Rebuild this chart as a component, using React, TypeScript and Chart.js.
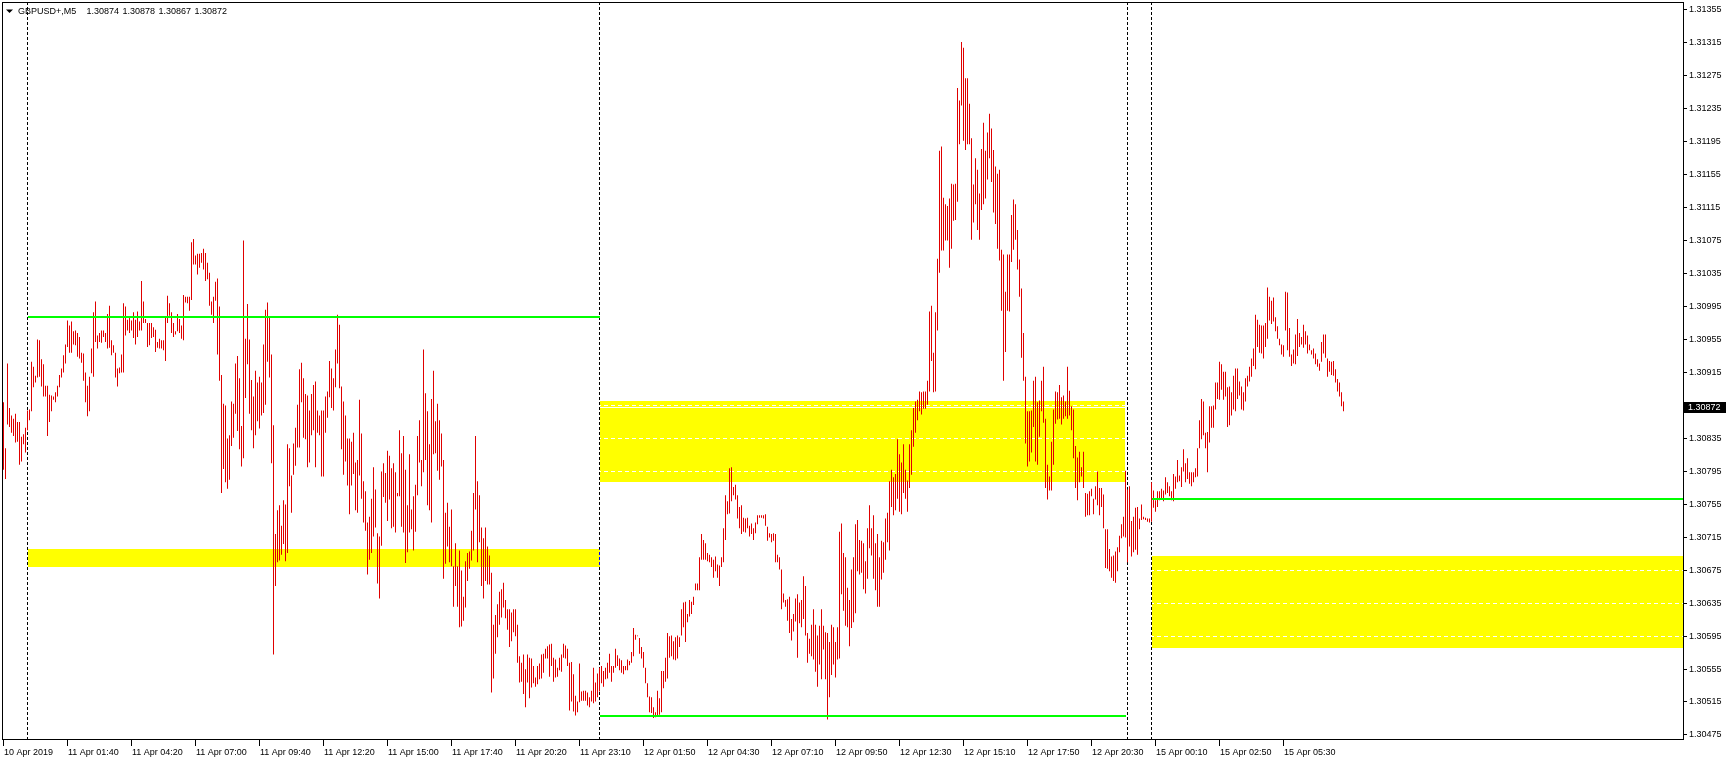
import { useEffect, useRef } from 'react';
import { Chart, registerables } from 'chart.js';

Chart.register(...registerables);

// Prices are stored in points: a value v stands for the price 1 + v / 100000 (30878 -> 1.30878).
// One M5 bar per entry, oldest first.
const HIGH_10APR = [30878, 30822, 30925, 30871, 30862, 30858, 30864, 30854, 30854, 30836, 30839, 30847];
const LOW_10APR = [30796, 30785, 30851, 30848, 30841, 30837, 30829, 30830, 30802, 30806, 30827, 30817];

const HIGH_11APR = [
  30868, 30869, 30927, 30921, 30910, 30954, 30953, 30930, 30924, 30898,
  30898, 30887, 30886, 30885, 30890, 30898, 30911, 30919, 30935, 30948,
  30977, 30971, 30976, 30964, 30965, 30962, 30957, 30938, 30937, 30914,
  30898, 30909, 30943, 30987, 31000, 30959, 30962, 30965, 30965, 30962,
  30985, 30995, 30953, 30947, 30938, 30919, 30920, 30936, 30998, 30994,
  30978, 30982, 30977, 30987, 30978, 30988, 30976, 31025, 31000, 30979,
  30974, 30974, 30974, 30969, 30966, 30951, 30955, 30953, 30953, 30982,
  31007, 30998, 30987, 30974, 30964, 30985, 30979, 30971, 31008, 31006,
  31006, 31006, 31072, 31076, 31056, 31058, 31058, 31059, 31064, 31059,
  31047, 31035, 31000, 31006, 31024, 31028, 30994, 30911, 30876, 30874,
  30834, 30838, 30879, 30876, 30925, 30934, 30907, 30849, 31074, 30955,
  30997, 30954, 30905, 30885, 30916, 30902, 30909, 30902, 30948, 30990,
  30999, 30982, 30936, 30850, 30718, 30747, 30753, 30728, 30759, 30754,
  30827, 30822, 30789, 30828, 30847, 30875, 30918, 30926, 30907, 30888,
  30886, 30868, 30888, 30899, 30903, 30868, 30862, 30868, 30868, 30885,
  30891, 30928, 30919, 30907, 30942, 30984, 30972, 30897, 30879, 30862,
  30834, 30834, 30830, 30841, 30805, 30808, 30881, 30840, 30782, 30770,
  30732, 30739, 30761, 30799, 30772, 30719, 30715, 30794, 30804, 30792,
  30819, 30813, 30798, 30804, 30793, 30768, 30844, 30816, 30837, 30796,
  30753, 30815, 30748, 30764, 30778, 30837, 30856, 30808, 30942, 30889,
  30867, 30827, 30882, 30916, 30855, 30876, 30856, 30840, 30808, 30744,
  30756, 30727, 30748, 30679, 30707, 30679, 30698, 30674, 30642, 30685,
  30695, 30697, 30722, 30768, 30837, 30782, 30765, 30726, 30713, 30726,
  30703, 30692, 30671, 30608, 30620, 30633, 30648, 30651, 30659, 30638,
  30627, 30627, 30623, 30627, 30627, 30608, 30570, 30562, 30572, 30554,
  30572, 30568, 30567, 30558, 30544, 30558, 30561, 30572, 30573, 30579,
  30582, 30584, 30585, 30568, 30566, 30556, 30568, 30572, 30585, 30583,
  30579, 30562, 30563, 30548, 30522, 30515, 30561, 30527, 30528, 30528,
  30526, 30520, 30528, 30556, 30538, 30549,
];
const LOW_11APR = [
  30844, 30856, 30867, 30896, 30902, 30908, 30909, 30897, 30885, 30885,
  30837, 30854, 30867, 30881, 30878, 30885, 30896, 30908, 30914, 30925,
  30945, 30938, 30938, 30948, 30947, 30933, 30931, 30926, 30904, 30878,
  30861, 30867, 30913, 30909, 30951, 30943, 30951, 30950, 30957, 30951,
  30943, 30944, 30935, 30938, 30908, 30897, 30913, 30914, 30914, 30959,
  30965, 30962, 30965, 30956, 30948, 30957, 30965, 30965, 30974, 30974,
  30945, 30947, 30956, 30957, 30939, 30944, 30943, 30943, 30941, 30928,
  30974, 30983, 30962, 30957, 30960, 30964, 30962, 30955, 30953, 30999,
  30998, 30989, 31002, 31045, 31045, 31033, 31041, 31047, 31039, 31025,
  31027, 30995, 30984, 30974, 31001, 30936, 30904, 30768, 30797, 30781,
  30773, 30784, 30825, 30835, 30864, 30843, 30821, 30800, 30810, 30883,
  30924, 30864, 30844, 30822, 30838, 30855, 30846, 30862, 30865, 30875,
  30927, 30908, 30804, 30572, 30655, 30684, 30686, 30693, 30706, 30685,
  30695, 30776, 30744, 30790, 30801, 30823, 30823, 30878, 30835, 30833,
  30799, 30805, 30838, 30844, 30799, 30841, 30838, 30788, 30788, 30841,
  30859, 30884, 30871, 30868, 30896, 30925, 30895, 30821, 30790, 30806,
  30777, 30742, 30777, 30791, 30747, 30744, 30789, 30761, 30732, 30722,
  30669, 30687, 30695, 30715, 30726, 30658, 30640, 30704, 30763, 30756,
  30734, 30760, 30725, 30727, 30720, 30764, 30764, 30727, 30720, 30683,
  30696, 30720, 30724, 30698, 30721, 30765, 30805, 30776, 30793, 30808,
  30753, 30747, 30732, 30815, 30816, 30795, 30784, 30800, 30664, 30682,
  30703, 30684, 30679, 30630, 30655, 30630, 30605, 30606, 30613, 30629,
  30661, 30676, 30686, 30698, 30748, 30684, 30708, 30655, 30640, 30661,
  30657, 30657, 30526, 30543, 30573, 30593, 30608, 30617, 30629, 30616,
  30602, 30581, 30588, 30599, 30594, 30562, 30538, 30539, 30524, 30508,
  30538, 30519, 30532, 30537, 30533, 30536, 30542, 30543, 30550, 30567,
  30567, 30545, 30558, 30539, 30544, 30545, 30553, 30551, 30568, 30567,
  30558, 30504, 30515, 30503, 30498, 30502, 30514, 30516, 30516, 30516,
  30510, 30508, 30515, 30513, 30515, 30520,
];

const HIGH_12APR = [
  30556, 30558, 30552, 30556, 30562, 30573, 30558, 30558, 30579, 30571,
  30567, 30565, 30558, 30558, 30566, 30564, 30575, 30604, 30596, 30595,
  30592, 30581, 30575, 30556, 30537, 30521, 30520, 30508, 30502, 30528,
  30519, 30552, 30552, 30568, 30598, 30594, 30595, 30588, 30593, 30595,
  30593, 30627, 30635, 30636, 30621, 30638, 30636, 30642, 30658, 30658,
  30690, 30718, 30711, 30707, 30695, 30693, 30690, 30687, 30691, 30681,
  30680, 30690, 30725, 30765, 30758, 30798, 30799, 30775, 30778, 30765,
  30751, 30753, 30738, 30737, 30738, 30728, 30731, 30725, 30732, 30741,
  30741, 30741, 30741, 30742, 30727, 30719, 30718, 30719, 30718, 30693,
  30690, 30675, 30646, 30638, 30639, 30642, 30615, 30621, 30640, 30645,
  30635, 30638, 30667, 30655, 30598, 30591, 30608, 30627, 30608, 30595,
  30607, 30627, 30607, 30599, 30598, 30587, 30608, 30605, 30587, 30605,
  30721, 30731, 30695, 30690, 30653, 30638, 30675, 30690, 30730, 30735,
  30711, 30710, 30707, 30685, 30725, 30753, 30725, 30741, 30707, 30718,
  30690, 30710, 30708, 30737, 30744, 30782, 30796, 30787, 30791, 30833,
  30815, 30805, 30827, 30796, 30783, 30827, 30844, 30871, 30879, 30881,
  30891, 30890, 30891, 30891, 30904, 30988, 30995, 30938, 30987, 31052,
  31183, 31188, 31126, 31118, 31116, 31125, 31143, 31142, 31143, 31259,
  31244, 31315, 31308, 31271, 31271, 31240, 31198, 31142, 31174, 31160,
  31131, 31185, 31217, 31183, 31205, 31228, 31210, 31184, 31164, 31155,
  31160, 31063, 31057, 31012, 31057, 31057, 31105, 31124, 31118, 31087,
  31051, 31016, 30962, 30909, 30867, 30867, 30868, 30904, 30909, 30878,
  30880, 30904, 30921, 30858, 30802, 30788, 30830, 30869, 30891, 30890,
  30899, 30884, 30886, 30879, 30921, 30892, 30873, 30869, 30825, 30811,
  30818, 30799, 30818, 30768, 30767, 30770, 30773, 30761, 30776, 30794,
  30774, 30774, 30766, 30724, 30724, 30700, 30691, 30692, 30697, 30702,
  30716, 30730, 30739, 30795, 30772, 30776, 30734, 30739, 30750, 30751,
  30737, 30754, 30739, 30738, 30737, 30737,
];
const LOW_12APR = [
  30527, 30537, 30533, 30542, 30543, 30550, 30539, 30550, 30556, 30558,
  30553, 30550, 30548, 30553, 30553, 30559, 30562, 30570, 30590, 30594,
  30573, 30567, 30556, 30537, 30520, 30502, 30501, 30495, 30496, 30497,
  30499, 30502, 30531, 30539, 30543, 30568, 30570, 30566, 30565, 30567,
  30581, 30595, 30605, 30587, 30611, 30618, 30621, 30632, 30650, 30650,
  30650, 30687, 30687, 30687, 30685, 30684, 30678, 30665, 30673, 30665,
  30655, 30678, 30684, 30711, 30742, 30743, 30758, 30765, 30760, 30737,
  30725, 30718, 30721, 30720, 30725, 30715, 30718, 30711, 30719, 30730,
  30738, 30738, 30737, 30728, 30710, 30714, 30708, 30710, 30684, 30684,
  30675, 30627, 30635, 30630, 30613, 30598, 30589, 30600, 30612, 30568,
  30610, 30605, 30615, 30595, 30562, 30573, 30570, 30566, 30551, 30533,
  30560, 30542, 30578, 30542, 30493, 30520, 30547, 30560, 30544, 30566,
  30567, 30645, 30625, 30607, 30605, 30582, 30604, 30611, 30622, 30673,
  30669, 30671, 30651, 30646, 30664, 30701, 30692, 30664, 30650, 30630,
  30630, 30663, 30671, 30687, 30708, 30698, 30751, 30741, 30747, 30761,
  30745, 30742, 30768, 30761, 30745, 30774, 30790, 30824, 30841, 30856,
  30867, 30863, 30870, 30870, 30875, 30891, 30928, 30890, 30891, 30965,
  31035, 31062, 31062, 31074, 31074, 31041, 31064, 31098, 31099, 31121,
  31191, 31238, 31195, 31184, 31191, 31191, 31075, 31096, 31118, 31087,
  31075, 31111, 31118, 31125, 31148, 31174, 31145, 31108, 31094, 31064,
  31050, 30989, 30904, 30939, 30989, 30988, 31048, 31063, 31075, 31039,
  31006, 30932, 30904, 30828, 30800, 30806, 30817, 30848, 30806, 30802,
  30836, 30867, 30853, 30774, 30760, 30771, 30771, 30802, 30852, 30857,
  30858, 30851, 30858, 30861, 30858, 30862, 30844, 30810, 30774, 30759,
  30781, 30788, 30774, 30739, 30741, 30741, 30764, 30742, 30760, 30753,
  30741, 30751, 30725, 30677, 30676, 30673, 30665, 30661, 30659, 30673,
  30696, 30713, 30715, 30714, 30684, 30703, 30691, 30696, 30699, 30693,
  30724, 30735, 30736, 30735, 30733, 30732,
];

const HIGH_15APR = [
  30781, 30771, 30759, 30770, 30770, 30773, 30771, 30787, 30781, 30776,
  30770, 30791, 30788, 30808, 30789, 30799, 30821, 30804, 30810, 30793,
  30793, 30793, 30798, 30822, 30856, 30882, 30879, 30841, 30842, 30873,
  30873, 30874, 30902, 30902, 30927, 30924, 30915, 30915, 30896, 30897,
  30890, 30910, 30919, 30919, 30903, 30897, 30890, 30907, 30910, 30921,
  30931, 30943, 30984, 30978, 30972, 30971, 30971, 30974, 31017, 31006,
  31001, 31005, 30981, 30970, 30955, 30948, 30947, 31012, 31011, 30968,
  30936, 30942, 30960, 30979, 30962, 30957, 30972, 30964, 30959, 30948,
  30941, 30943, 30937, 30930, 30925, 30951, 30960, 30960, 30931, 30928,
  30927, 30928, 30918, 30906, 30902, 30890, 30879,
];
const LOW_15APR = [
  30733, 30750, 30745, 30751, 30759, 30761, 30758, 30766, 30768, 30764,
  30759, 30758, 30773, 30781, 30782, 30775, 30794, 30781, 30785, 30779,
  30776, 30781, 30787, 30788, 30822, 30833, 30838, 30822, 30793, 30829,
  30847, 30847, 30869, 30882, 30881, 30893, 30881, 30885, 30848, 30850,
  30862, 30869, 30867, 30882, 30886, 30869, 30868, 30879, 30897, 30903,
  30909, 30922, 30918, 30945, 30938, 30937, 30931, 30945, 30955, 30977,
  30973, 30976, 30964, 30955, 30947, 30936, 30933, 30965, 30941, 30933,
  30922, 30925, 30924, 30934, 30945, 30948, 30944, 30948, 30937, 30941,
  30936, 30931, 30924, 30921, 30916, 30927, 30937, 30932, 30909, 30915,
  30911, 30910, 30902, 30891, 30885, 30873, 30867,
];

// Time-axis labels, one every 32 bars
const TIME_LABELS = [
  '10 Apr 2019', '11 Apr 01:40', '11 Apr 04:20', '11 Apr 07:00', '11 Apr 09:40', '11 Apr 12:20',
  '11 Apr 15:00', '11 Apr 17:40', '11 Apr 20:20', '11 Apr 23:10', '12 Apr 01:50', '12 Apr 04:30',
  '12 Apr 07:10', '12 Apr 09:50', '12 Apr 12:30', '12 Apr 15:10', '12 Apr 17:50', '12 Apr 20:30',
  '15 Apr 00:10', '15 Apr 02:50', '15 Apr 05:30',
];
const BARS_PER_TIME_LABEL = 32;

const PRICE_TICKS = [
  1.30475, 1.30515, 1.30555, 1.30595, 1.30635, 1.30675, 1.30715, 1.30755, 1.30795, 1.30835,
  1.30875, 1.30915, 1.30955, 1.30995, 1.31035, 1.31075, 1.31115, 1.31155, 1.31195, 1.31235,
  1.31275, 1.31315, 1.31355,
];

const SYMBOL = 'GBPUSD+,M5';
const LAST_OHLC = ['1.30874', '1.30878', '1.30867', '1.30872'];
const BID = 1.30872;

// Drawn objects (bar index ranges, prices)
const ZONE_FROM = [12, 298, 574];
const ZONE_TO = [298, 560.85, null];
const ZONE_TOP = [1.307, 1.3088, 1.30691];
const ZONE_BOTTOM = [1.30678, 1.30781, 1.3058];

const LEVEL_FROM = [12, 298, 574];
const LEVEL_TO = [298, 561, null];
const LEVEL_PRICE = [1.30981, 1.30497, 1.30761];

const SEPARATOR_BARS = [12, 298, 562, 574];

// Visible range
const X_MIN = -0.75;
const X_MAX = 839.75;
const Y_MIN = 1.304695;
const Y_MAX = 1.313634;

const W = 1729;
const H = 760;
const FONT = '9px "Liberation Sans", Arial, sans-serif';
const BAR_COLOR = '#e00000';

const toPrice = (v: number) => 1 + v / 100000;

export default function App() {
  const ref = useRef<HTMLCanvasElement>(null);

  useEffect(() => {
    const canvas = ref.current;
    if (!canvas) return;

    const highs = [...HIGH_10APR, ...HIGH_11APR, ...HIGH_12APR, ...HIGH_15APR];
    const lows = [...LOW_10APR, ...LOW_11APR, ...LOW_12APR, ...LOW_15APR];
    const bars = highs.map((h, i) => ({ x: i, y: [toPrice(lows[i]), toPrice(h)] }));

    const overlay = {
      id: 'mt4Overlay',
      beforeDraw(chart: any) {
        const { ctx } = chart;
        ctx.save();
        ctx.fillStyle = '#ffffff';
        ctx.fillRect(0, 0, chart.width, chart.height);
        ctx.restore();
      },
      beforeDatasetsDraw(chart: any) {
        const { ctx, chartArea: ca, scales } = chart;
        const xs = scales.x;
        const ys = scales.y;
        ctx.save();
        // yellow zones
        ctx.fillStyle = '#ffff00';
        for (let k = 0; k < ZONE_FROM.length; k++) {
          const x0 = Math.round(xs.getPixelForValue(ZONE_FROM[k]));
          const to = ZONE_TO[k];
          const x1 = to === null ? ca.right : Math.round(xs.getPixelForValue(to));
          const y0 = Math.round(ys.getPixelForValue(ZONE_TOP[k]));
          const y1 = Math.round(ys.getPixelForValue(ZONE_BOTTOM[k]));
          ctx.fillRect(x0, y0, x1 - x0, y1 - y0);
        }
        // white dotted grid (visible only over the zones)
        ctx.strokeStyle = '#ffffff';
        ctx.lineWidth = 1;
        ctx.setLineDash([4, 3]);
        for (const t of PRICE_TICKS) {
          const py = Math.round(ys.getPixelForValue(t)) + 0.5;
          ctx.beginPath();
          ctx.moveTo(ca.left, py);
          ctx.lineTo(ca.right, py);
          ctx.stroke();
        }
        // bid line
        ctx.setLineDash([]);
        const by = Math.round(ys.getPixelForValue(BID)) + 0.5;
        ctx.beginPath();
        ctx.moveTo(ca.left, by);
        ctx.lineTo(ca.right, by);
        ctx.stroke();
        // period separators (inverted dotted lines)
        ctx.globalCompositeOperation = 'difference';
        ctx.setLineDash([3, 2]);
        for (const s of SEPARATOR_BARS) {
          const px = Math.floor(xs.getPixelForValue(s)) + 0.5;
          ctx.beginPath();
          ctx.moveTo(px, ca.top);
          ctx.lineTo(px, ca.bottom);
          ctx.stroke();
        }
        ctx.restore();
      },
      afterDatasetsDraw(chart: any) {
        const { ctx, chartArea: ca, scales } = chart;
        const xs = scales.x;
        const ys = scales.y;
        ctx.save();
        ctx.strokeStyle = '#00ff00';
        ctx.lineWidth = 2;
        for (let k = 0; k < LEVEL_FROM.length; k++) {
          const x0 = Math.round(xs.getPixelForValue(LEVEL_FROM[k]));
          const to = LEVEL_TO[k];
          const x1 = to === null ? ca.right : Math.round(xs.getPixelForValue(to));
          const py = Math.round(ys.getPixelForValue(LEVEL_PRICE[k]));
          ctx.beginPath();
          ctx.moveTo(x0, py);
          ctx.lineTo(x1, py);
          ctx.stroke();
        }
        ctx.restore();
      },
      afterDraw(chart: any) {
        const { ctx, chartArea: ca, scales } = chart;
        const xs = scales.x;
        const ys = scales.y;
        ctx.save();
        ctx.strokeStyle = '#000000';
        ctx.fillStyle = '#000000';
        ctx.lineWidth = 1;
        ctx.setLineDash([]);
        ctx.strokeRect(ca.left + 0.5, ca.top + 0.5, ca.right - ca.left, ca.bottom - ca.top);

        ctx.font = FONT;
        // price axis
        ctx.textAlign = 'left';
        ctx.textBaseline = 'middle';
        for (const t of PRICE_TICKS) {
          const py = Math.round(ys.getPixelForValue(t)) + 0.5;
          ctx.beginPath();
          ctx.moveTo(ca.right + 1, py);
          ctx.lineTo(ca.right + 4, py);
          ctx.stroke();
          ctx.fillText(t.toFixed(5), ca.right + 6, py);
        }
        // time axis
        ctx.textBaseline = 'alphabetic';
        TIME_LABELS.forEach((lab, k) => {
          const px = Math.floor(xs.getPixelForValue(k * BARS_PER_TIME_LABEL)) + 0.5;
          ctx.beginPath();
          ctx.moveTo(px, ca.bottom + 1);
          ctx.lineTo(px, ca.bottom + 7);
          ctx.stroke();
          ctx.fillText(lab, px + 0.5, 755);
        });
        // title
        ctx.beginPath();
        ctx.moveTo(6, 9.5);
        ctx.lineTo(13, 9.5);
        ctx.lineTo(9.5, 13);
        ctx.closePath();
        ctx.fill();
        ctx.fillText(SYMBOL, 18, 14);
        LAST_OHLC.forEach((v, k) => ctx.fillText(v, 86.5 + k * 36, 14));
        // bid price box
        const by = Math.round(ys.getPixelForValue(BID));
        ctx.fillStyle = '#000000';
        ctx.fillRect(ca.right + 1, by - 5, 42, 11);
        ctx.fillStyle = '#ffffff';
        ctx.textBaseline = 'middle';
        ctx.fillText(BID.toFixed(5), ca.right + 5, by + 0.5);
        ctx.restore();
      },
    };

    const chart = new Chart(canvas, {
      type: 'bar',
      data: {
        datasets: [
          {
            data: bars as any,
            backgroundColor: BAR_COLOR,
            borderWidth: 0,
            barThickness: 1,
            inflateAmount: 0,
            borderSkipped: false,
            grouped: false,
          } as any,
        ],
      },
      options: {
        animation: false,
        responsive: false,
        devicePixelRatio: 1,
        layout: { padding: { left: 2, top: 2, right: W - 1683, bottom: H - 739 } },
        plugins: { legend: { display: false }, tooltip: { enabled: false } },
        events: [],
        scales: {
          x: { type: 'linear', min: X_MIN, max: X_MAX, display: false, offset: false, grid: { display: false } },
          y: { type: 'linear', min: Y_MIN, max: Y_MAX, display: false, beginAtZero: false, grace: 0 },
        },
      } as any,
      plugins: [overlay],
    });

    return () => chart.destroy();
  }, []);

  return (
    <div style={{ position: 'fixed', left: 0, top: 0, width: W, height: H, background: '#ffffff' }}>
      <canvas ref={ref} width={W} height={H} style={{ display: 'block', width: W, height: H }} />
    </div>
  );
}
